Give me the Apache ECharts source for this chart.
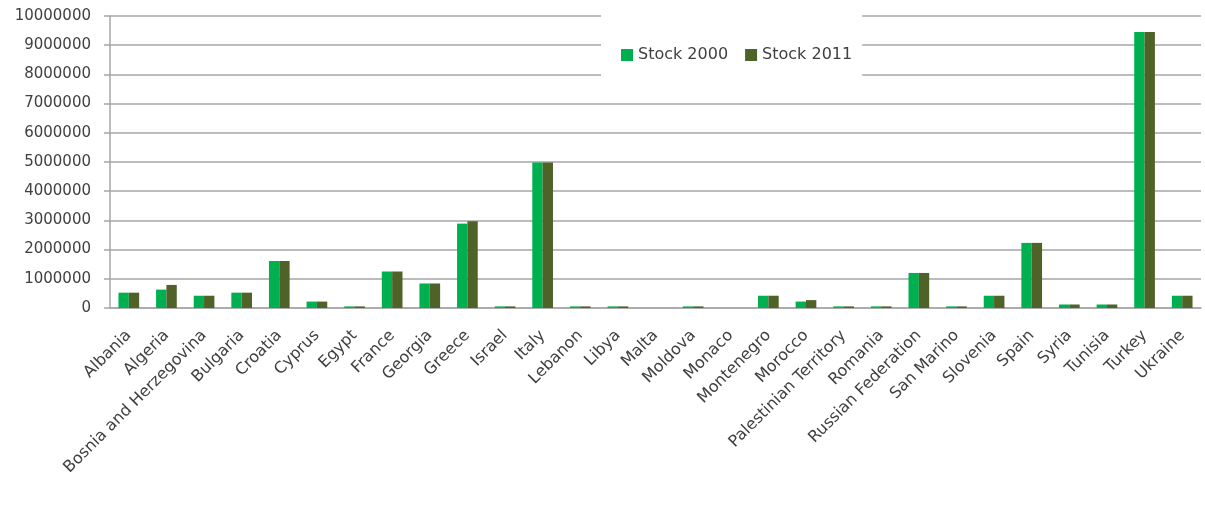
<!DOCTYPE html>
<html>
<head>
<meta charset="utf-8">
<script src="https://cdn.jsdelivr.net/npm/echarts@6/dist/echarts.min.js"></script>
<style>
  html, body { margin: 0; padding: 0; background: #fff; }
  #stockChart { width: 1205px; height: 514px; }
</style>
</head>
<body>
<div id="stockChart"></div>
<script>
//////////////////////////////
//          数据
//////////////////////////////
var countries = ['Albania', 'Algeria', 'Bosnia and Herzegovina', 'Bulgaria', 'Croatia', 'Cyprus', 'Egypt',
    'France', 'Georgia', 'Greece', 'Israel', 'Italy', 'Lebanon', 'Libya', 'Malta', 'Moldova', 'Monaco',
    'Montenegro', 'Morocco', 'Palestinian Territory', 'Romania', 'Russian Federation', 'San Marino',
    'Slovenia', 'Spain', 'Syria', 'Tunisia', 'Turkey', 'Ukraine'];

var stock2000 = [525000, 630000, 420000, 525000, 1610000, 220000, 55000,
    1250000, 840000, 2890000, 55000, 4980000, 55000, 55000, 0, 55000, 0,
    420000, 220000, 55000, 55000, 1200000, 55000,
    420000, 2230000, 120000, 120000, 9450000, 420000];

var stock2011 = [525000, 790000, 420000, 525000, 1610000, 220000, 55000,
    1250000, 840000, 2970000, 55000, 4980000, 55000, 55000, 0, 55000, 0,
    420000, 270000, 55000, 55000, 1200000, 55000,
    420000, 2230000, 120000, 120000, 9450000, 420000];

var seriesNames = ['Stock 2000', 'Stock 2011'];

var lineColor = '#a6a6a6';
var textColor = '#404040';

var myChart = echarts.init(document.getElementById('stockChart'));

var option = {
    animation: false,
    color: ['#00b050', '#4f6228'],
    textStyle: {
        fontFamily: 'DejaVu Sans'
    },
    legend: {
        data: seriesNames,
        left: 601,
        top: 13,
        padding: [34, 10, 32, 20],
        backgroundColor: '#ffffff',
        itemWidth: 12,
        itemHeight: 12,
        itemGap: 17,
        icon: 'rect',
        z: 10,
        textStyle: {
            color: textColor,
            fontSize: 16,
            fontFamily: 'DejaVu Sans'
        }
    },
    grid: {
        left: 110,
        right: 4,
        top: 16,
        bottom: 206
    },
    xAxis: [{
        type: 'category',
        data: countries,
        axisLine: {
            lineStyle: {
                color: lineColor,
                width: 1.5
            }
        },
        axisTick: {
            length: 6,
            lineStyle: {
                color: lineColor,
                width: 1.5
            }
        },
        axisLabel: {
            rotate: 45,
            interval: 0,
            margin: 25,
            color: textColor,
            fontSize: 16
        }
    }, {
        // 内侧刻度（交叉刻度）
        type: 'category',
        data: countries,
        position: 'bottom',
        axisLine: { show: false },
        axisTick: {
            inside: true,
            length: 6,
            lineStyle: {
                color: lineColor,
                width: 1.5
            }
        },
        axisLabel: { show: false }
    }],
    yAxis: {
        type: 'value',
        min: 0,
        max: 10000000,
        interval: 1000000,
        axisLine: {
            show: true,
            lineStyle: {
                color: lineColor,
                width: 1.5
            }
        },
        axisTick: {
            show: true,
            length: 6,
            lineStyle: {
                color: lineColor,
                width: 1.5
            }
        },
        axisLabel: {
            margin: 19,
            color: textColor,
            fontSize: 15,
            formatter: function(value) {
                return String(value);
            }
        },
        splitLine: {
            lineStyle: {
                color: lineColor,
                width: 1.5
            }
        }
    },
    series: [{
        name: seriesNames[0],
        type: 'bar',
        barGap: '0%',
        barCategoryGap: '45%',
        data: stock2000
    }, {
        name: seriesNames[1],
        type: 'bar',
        barGap: '0%',
        barCategoryGap: '45%',
        data: stock2011
    }]
};

myChart.setOption(option);
</script>
</body>
</html>
